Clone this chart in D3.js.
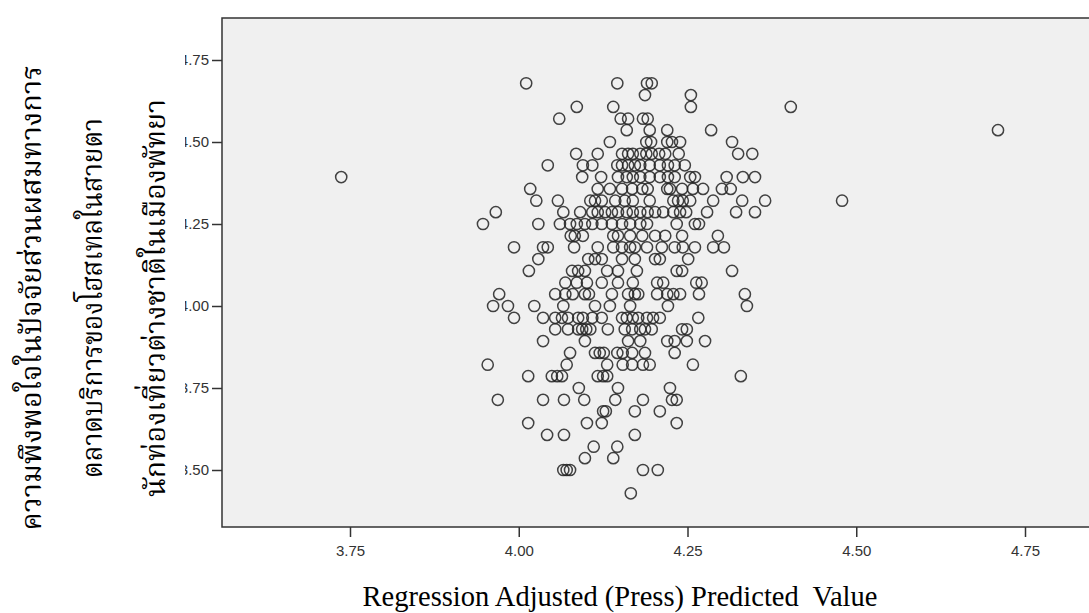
<!DOCTYPE html>
<html>
<head>
<meta charset="utf-8">
<style>
  body { margin: 0; background: #fff; }
  svg { display: block; }
</style>
</head>
<body>
<svg id="chart" width="1089" height="613"></svg>
<script src="https://d3js.org/d3.v7.min.js"></script>
<script>
// mean satisfaction score, one level per row of circles
const satisfaction = [4.679, 4.643, 4.607, 4.571, 4.536, 4.500, 4.464, 4.429, 4.393, 4.357,
    4.321, 4.286, 4.250, 4.214, 4.179, 4.143, 4.107, 4.071, 4.036, 4.000,
    3.964, 3.929, 3.893, 3.857, 3.821, 3.786, 3.750, 3.714, 3.679, 3.643,
    3.607, 3.571, 3.536, 3.500, 3.429]

// adjusted (press) predicted values of the cases at each level above
const predicted = [
    [4.011, 4.146, 4.190, 4.197],
    [4.187, 4.255],
    [4.086, 4.140, 4.255, 4.403],
    [4.060, 4.151, 4.162, 4.184, 4.191],
    [4.160, 4.194, 4.220, 4.285, 4.710],
    [4.135, 4.189, 4.196, 4.220, 4.227, 4.239, 4.316],
    [4.085, 4.117, 4.153, 4.162, 4.169, 4.180, 4.189, 4.197, 4.208, 4.217, 4.237, 4.325, 4.346],
    [4.043, 4.095, 4.109, 4.146, 4.153, 4.162, 4.172, 4.180, 4.194, 4.209, 4.221, 4.231, 4.246],
    [3.737, 4.094, 4.122, 4.147, 4.160, 4.169, 4.180, 4.194, 4.209, 4.221, 4.231, 4.254, 4.261, 4.308, 4.332, 4.350],
    [4.017, 4.117, 4.135, 4.153, 4.168, 4.183, 4.191, 4.220, 4.224, 4.242, 4.258, 4.273, 4.301, 4.314],
    [4.026, 4.058, 4.106, 4.113, 4.123, 4.143, 4.157, 4.169, 4.194, 4.229, 4.236, 4.243, 4.254, 4.288, 4.331, 4.365, 4.479],
    [3.966, 4.066, 4.091, 4.109, 4.117, 4.128, 4.138, 4.147, 4.160, 4.169, 4.180, 4.191, 4.202, 4.214, 4.229, 4.239, 4.248, 4.279, 4.322, 4.350],
    [3.947, 4.029, 4.061, 4.076, 4.086, 4.098, 4.109, 4.123, 4.138, 4.153, 4.165, 4.180, 4.190, 4.234, 4.261, 4.267],
    [4.077, 4.083, 4.095, 4.140, 4.147, 4.165, 4.183, 4.202, 4.217, 4.242, 4.295],
    [3.993, 4.036, 4.043, 4.082, 4.117, 4.140, 4.153, 4.165, 4.172, 4.190, 4.212, 4.231, 4.243, 4.261, 4.288, 4.304],
    [4.029, 4.103, 4.113, 4.123, 4.153, 4.172, 4.202, 4.209, 4.251],
    [4.015, 4.079, 4.088, 4.098, 4.131, 4.147, 4.175, 4.234, 4.242, 4.316],
    [4.069, 4.086, 4.101, 4.123, 4.147, 4.169, 4.205, 4.214, 4.263, 4.271],
    [3.971, 4.054, 4.069, 4.080, 4.098, 4.104, 4.138, 4.162, 4.172, 4.177, 4.205, 4.220, 4.229, 4.239, 4.267, 4.335],
    [3.962, 3.984, 4.023, 4.066, 4.113, 4.135, 4.165, 4.221, 4.338],
    [3.993, 4.036, 4.054, 4.064, 4.073, 4.088, 4.095, 4.109, 4.123, 4.153, 4.160, 4.169, 4.177, 4.190, 4.199, 4.209, 4.266],
    [4.054, 4.073, 4.088, 4.094, 4.100, 4.106, 4.132, 4.157, 4.168, 4.180, 4.187, 4.197, 4.242, 4.249],
    [4.036, 4.098, 4.162, 4.180, 4.220, 4.231, 4.249, 4.276],
    [4.076, 4.113, 4.120, 4.126, 4.146, 4.154, 4.168, 4.187, 4.231],
    [3.954, 4.071, 4.131, 4.154, 4.168, 4.184, 4.194, 4.258],
    [4.014, 4.049, 4.057, 4.064, 4.117, 4.125, 4.131, 4.329],
    [4.089, 4.147, 4.224],
    [3.969, 4.036, 4.067, 4.097, 4.143, 4.184, 4.227, 4.234],
    [4.125, 4.129, 4.172, 4.209],
    [4.014, 4.101, 4.123, 4.234],
    [4.042, 4.067, 4.172],
    [4.111, 4.146],
    [4.098, 4.140],
    [4.066, 4.071, 4.076, 4.184, 4.206],
    [4.166]
]

const xTicks = [3.75, 4.00, 4.25, 4.50, 4.75]
const yTicks = [3.50, 3.75, 4.00, 4.25, 4.50, 4.75]
const xTitle = "Regression Adjusted (Press) Predicted  Value"
const yTitle = ["ความพึงพอใจในปัจจัยส่วนผสมทางการ",
    "ตลาดบริการของโฮสเทลในสายตา",
    "นักท่องเที่ยวต่างชาติในเมืองพัทยา"]

let points = []
satisfaction.forEach((s, i) => {
    predicted[i].forEach(p => points.push({ x: p, y: s }))
})

let svg = d3.select("#chart")
let plotLeft = 222, plotTop = 18, plotBottom = 527

let x = d3.scaleLinear().domain([3.75, 4.75]).range([350, 1025])
let y = d3.scaleLinear().domain([3.5, 4.75]).range([470, 60])

// plot frame (right side runs off the page as in the original)
svg.append("rect")
    .attr("x", plotLeft).attr("y", plotTop)
    .attr("width", 900).attr("height", plotBottom - plotTop)
    .attr("fill", "#f0f0f0")
    .attr("stroke", "#333")
    .attr("stroke-width", 1.5)

// y labels are cut off on the left in the original (clip is in axis coords)
svg.append("clipPath").attr("id", "ylab")
    .append("rect").attr("x", -37).attr("y", 0).attr("width", 42).attr("height", 613)

let yAxis = d3.axisLeft(y).tickValues(yTicks).tickFormat(d3.format(".2f")).tickSize(10).tickPadding(3)
svg.append("g")
    .attr("transform", `translate(${plotLeft},0)`)
    .attr("clip-path", "url(#ylab)")
    .call(yAxis)

let xAxis = d3.axisBottom(x).tickValues(xTicks).tickFormat(d3.format(".2f")).tickSize(10).tickPadding(8)
svg.append("g")
    .attr("transform", `translate(0,${plotBottom})`)
    .call(xAxis)

svg.selectAll(".domain").remove()
svg.selectAll(".tick line").attr("stroke", "#333").attr("stroke-width", 1.5)
svg.selectAll(".tick text")
    .attr("fill", "#333")
    .style("font-family", "'Liberation Sans', Arial, sans-serif")
    .style("font-size", "15px")

// points
svg.append("g").selectAll("circle")
    .data(points)
    .enter()
    .append("circle")
    .attr("cx", d => x(d.x))
    .attr("cy", d => y(d.y))
    .attr("r", 5.6)
    .attr("fill", "none")
    .attr("stroke", "#222")
    .attr("stroke-width", 1.5)
    .attr("stroke-opacity", 0.85)

// axis titles
svg.append("text")
    .attr("x", 620).attr("y", 606)
    .attr("text-anchor", "middle")
    .style("font-family", "'Liberation Serif', 'Times New Roman', serif")
    .style("font-size", "28.5px")
    .attr("fill", "#000")
    .style("white-space", "pre")
    .text(xTitle)

let lineX = [41, 102, 165]
let lineLen = [465, 360, 398]
svg.append("g").selectAll("text")
    .data(yTitle)
    .enter()
    .append("text")
    .attr("transform", (d, i) => `translate(${lineX[i]},298) rotate(-90)`)
    .attr("text-anchor", "middle")
    .attr("textLength", (d, i) => lineLen[i])
    .attr("lengthAdjust", "spacingAndGlyphs")
    .style("font-family", "Norasi, 'Noto Serif Thai', 'Noto Sans Thai Looped', Loma, 'Noto Sans Thai', sans-serif")
    .style("font-size", "29px")
    .attr("fill", "#000")
    .text(d => d)
</script>
</body>
</html>
